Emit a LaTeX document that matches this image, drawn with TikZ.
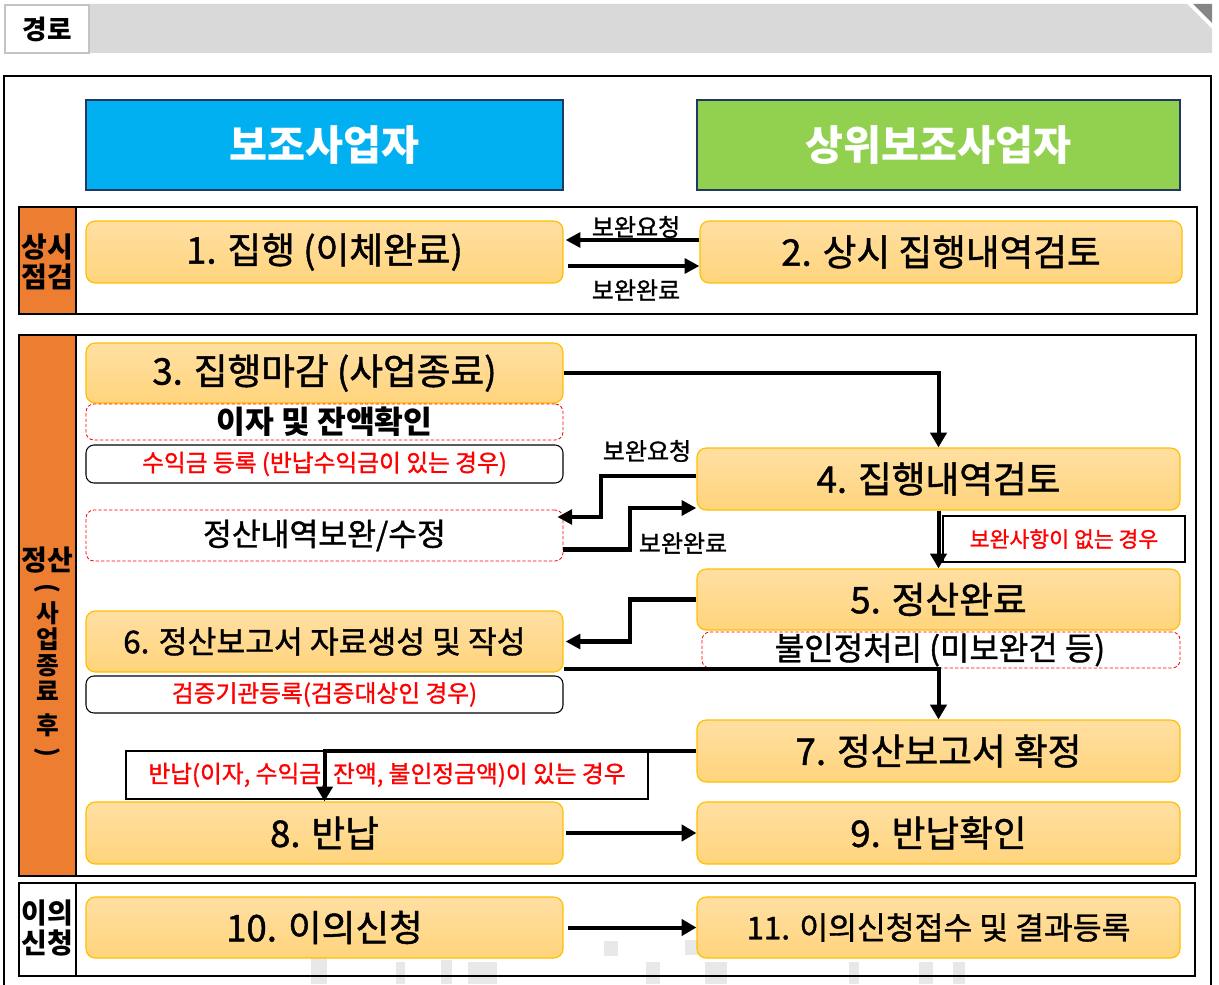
\documentclass[tikz,border=0pt]{standalone}
\usepackage{fontspec}
\setmainfont{Noto Sans CJK KR}
\newfontfamily\kmed{Noto Sans CJK KR}[FakeBold=1.2]
\usepackage{graphicx}
\usetikzlibrary{arrows.meta,calc,fit}
\definecolor{orng}{HTML}{ED7D31}
\definecolor{hblue}{HTML}{00B0F0}
\definecolor{hgreen}{HTML}{92D050}
\definecolor{navy}{HTML}{203864}
\definecolor{barg}{HTML}{D9D9D9}
\definecolor{boxg}{HTML}{C4C4C4}
\definecolor{darkg}{HTML}{858585}
\definecolor{gold}{HTML}{FFC000}
\definecolor{ytop}{HTML}{FFDFA2}
\definecolor{ybot}{HTML}{FFD47C}
\definecolor{wm}{HTML}{E8E8E8}
\newcommand{\fsz}[1]{\fontsize{#1}{#1}\selectfont}
\begin{document}
\begin{tikzpicture}[x=0.75pt,y=-0.75pt,
  ybox/.style={draw=gold, line width=0.9pt, rounded corners=7pt, top color=ytop, bottom color=ybot, inner sep=0pt},
  zbox/.style={draw=red, dash pattern=on 2.5pt off 1.5pt, line width=0.6pt, rounded corners=6pt, fill=white, inner sep=0pt},
  rbox/.style={draw=black, line width=0.8pt, rounded corners=6pt, fill=white, inner sep=0pt},
  cbox/.style={draw=black, line width=1.2pt, fill=white, inner sep=0pt},
  hbox/.style={draw=navy, line width=1.5pt, inner sep=0pt},
  htxt/.style={text=white, font=\fsz{31}\bfseries, inner sep=0pt},
  sect/.style={draw=black, line width=2.2pt},
  big/.style={font=\kmed\fsz{27.5}, inner sep=0pt},
  mid/.style={font=\kmed\fsz{23.5}, inner sep=0pt},
  redt/.style={text=red, font=\kmed\fsz{17.8}, inner sep=0pt},
  side/.style={font=\fsz{21}\bfseries, align=center, inner sep=0pt},
  lbl/.style={font=\kmed\fsz{18}, inner sep=0pt},
  arr/.style={line width=3.5pt, -{Triangle[length=11pt,width=11pt]}},
  arrb/.style={line width=3pt, -{Triangle[length=11pt,width=12pt]}}]
\useasboundingbox (0,0) rectangle (1219,984);
% title bar
\fill[barg] (89,4) -- (1187,4) -- (1212,29) -- (1212,53) -- (89,53) -- cycle;
\fill[darkg] (1193,4) -- (1212,4) -- (1212,23) -- cycle;
\node[draw=boxg, line width=2pt, fill=white, fit={(5,5)(89,53)}, inner sep=0pt,
  label={[font=\fsz{20}\bfseries, inner sep=0pt]center:경로}] (title) {};
% outer frame
\draw[line width=2.2pt] (4,990) -- (4,76) -- (1211,76) -- (1211,990);
% headers
\node[hbox, fill=hblue, fit={(86,100)(563,190)}, label={[htxt]center:보조사업자}] (h1) {};
\node[hbox, fill=hgreen, fit={(697,100)(1180,190)}, label={[htxt]center:상위보조사업자}] (h2) {};
% sections
\draw[sect, fill=white] (19,207) rectangle (1197,314);
\draw[sect, fill=orng] (19,207) rectangle (76,314);
\node[side] (s1) at (47.5,262) {상시\\[2pt]점검};
\draw[sect, fill=white] (19,335) rectangle (1196,876);
\draw[sect, fill=orng] (19,335) rectangle (76,876);
\node[side] (s2a) at (47.5,560) {정산};
\node[side, font=\fsz{18.5}\bfseries, anchor=north] (s2b) at (47.5,583)
  {\rotatebox[origin=c]{-90}{(}\\[1pt]사\\[1pt]업\\[1pt]종\\[1pt]료\\[7pt]후\\[1pt]\rotatebox[origin=c]{-90}{)}};
\draw[sect, fill=white] (19,883) rectangle (1195,976);
% faint background marks
\fill[wm] (311,950) rectangle (327,984);
\fill[wm] (396,962) rectangle (405,984);
\fill[wm] (441,960) rectangle (452,984);
\fill[wm] (468,962) rectangle (497,984);
\fill[wm] (604,941) rectangle (618,956);
\fill[wm] (646,962) rectangle (660,984);
\fill[wm] (685,940) rectangle (699,955);
\fill[wm] (705,962) rectangle (727,984);
\fill[wm] (849,962) rectangle (859,984);
\fill[wm] (919,962) rectangle (933,984);
\fill[wm] (953,962) rectangle (965,984);
\draw[line width=2.2pt] (19,976) -- (1195,976);
\draw[line width=2.2pt] (76,883) -- (76,976);
\node[side] (s3) at (47.5,928) {이의\\[2pt]신청};
% section 1 boxes
\node[ybox, fit={(86,221)(563,283)}, label={[big]center:1. 집행 (이체완료)}] (b1) {};
\node[ybox, fit={(700,221)(1182,283)}, label={[big]center:2. 상시 집행내역검토}] (b2) {};
% section 2 boxes
\node[ybox, fit={(86,343)(563,403)}, label={[big]center:3. 집행마감 (사업종료)}] (b3) {};
\node[zbox, fit={(86,404)(563,440)}, label={[font=\fsz{23.5}\bfseries, inner sep=0pt]center:이자 및 잔액확인}] (z1) {};
\node[rbox, fit={(86,445)(563,483)}, label={[redt]center:수익금 등록 (반납수익금이 있는 경우)}] (r1) {};
\node[zbox, fit={(86,510)(563,561)}, label={[mid]center:정산내역보완/수정}] (z2) {};
\node[ybox, fit={(697,448)(1180,510)}, label={[big]center:4. 집행내역검토}] (b4) {};
\node[cbox, fit={(943,516)(1185,562)}, label={[redt, font=\kmed\fsz{16.2}]center:보완사항이 없는 경우}] (c1) {};
\node[ybox, fit={(697,569)(1180,630)}, label={[big]center:5. 정산완료}] (b5) {};
\node[zbox, fit={(702,632)(1180,668)}] (z3) {};
\node[mid, font=\kmed\fsz{24}] (z3t) at (940,650) {불인정처리 (미보완건 등)};
\node[ybox, fit={(86,611)(563,672)}, label={[mid]center:6. 정산보고서 자료생성 및 작성}] (b6) {};
\node[rbox, fit={(86,676)(563,713)}, label={[redt]center:검증기관등록(검증대상인 경우)}] (r2) {};
\node[ybox, fit={(697,720)(1180,782)}, label={[big]center:7. 정산보고서 확정}] (b7) {};
\node[cbox, fit={(126,751)(648,799)}, label={[redt]center:{반납(이자, 수익금, 잔액, 불인정금액)이 있는 경우}}] (c2) {};
\node[ybox, fit={(86,802)(563,864)}, label={[big]center:8. 반납}] (b8) {};
\node[ybox, fit={(697,802)(1180,864)}, label={[big]center:9. 반납확인}] (b9) {};
% section 3 boxes
\node[ybox, fit={(86,897)(563,958)}, label={[big]center:10. 이의신청}] (b10) {};
\node[ybox, fit={(697,897)(1180,958)}, label={[mid]center:11. 이의신청접수 및 결과등록}] (b11) {};
% connectors section 1
\draw[arr] ($(b2.west)+(0,-12)$) -- ($(b1.east)+(2,-12)$);
\draw[arr] ($(b1.east)+(4,14)$) -- ($(b2.west)+(0,14)$);
\node[lbl] (l1) at (636,227) {보완요청};
\node[lbl] (l2) at (636,290) {보완완료};
% connectors section 2
\draw[arrb] (b3.east) -| (b4.north);
\draw[arr] ($(b4.west)+(0,-3)$) -- (601,476) -- (601,517) -- ($(z2.east)+(-6,-18.5)$);
\draw[arr] ($(z2.east)+(0,14)$) -- (630,549.5) -- (630,508) -- ($(b4.west)+(0,29)$);
\node[lbl] (l3) at (647,451) {보완요청};
\node[lbl] (l4) at (683,543) {보완완료};
\draw[arrb] (b4.south) -- (b5.north);
\draw[arr] (b5.west) -- (630,599.5) -- (630,641.5) -- ($(b6.east)+(2,0)$);
\draw[arrb] ($(b6.south east)+(0,-4)$) -| (b7.north);
\draw[arrb] (b7.west) -| (b8.north);
\draw[arrb] ($(b8.east)+(2,0)$) -- (b9.west);
% connector section 3
\draw[arrb] ($(b10.east)+(4,0)$) -- (b11.west);
\end{tikzpicture}
\end{document}
